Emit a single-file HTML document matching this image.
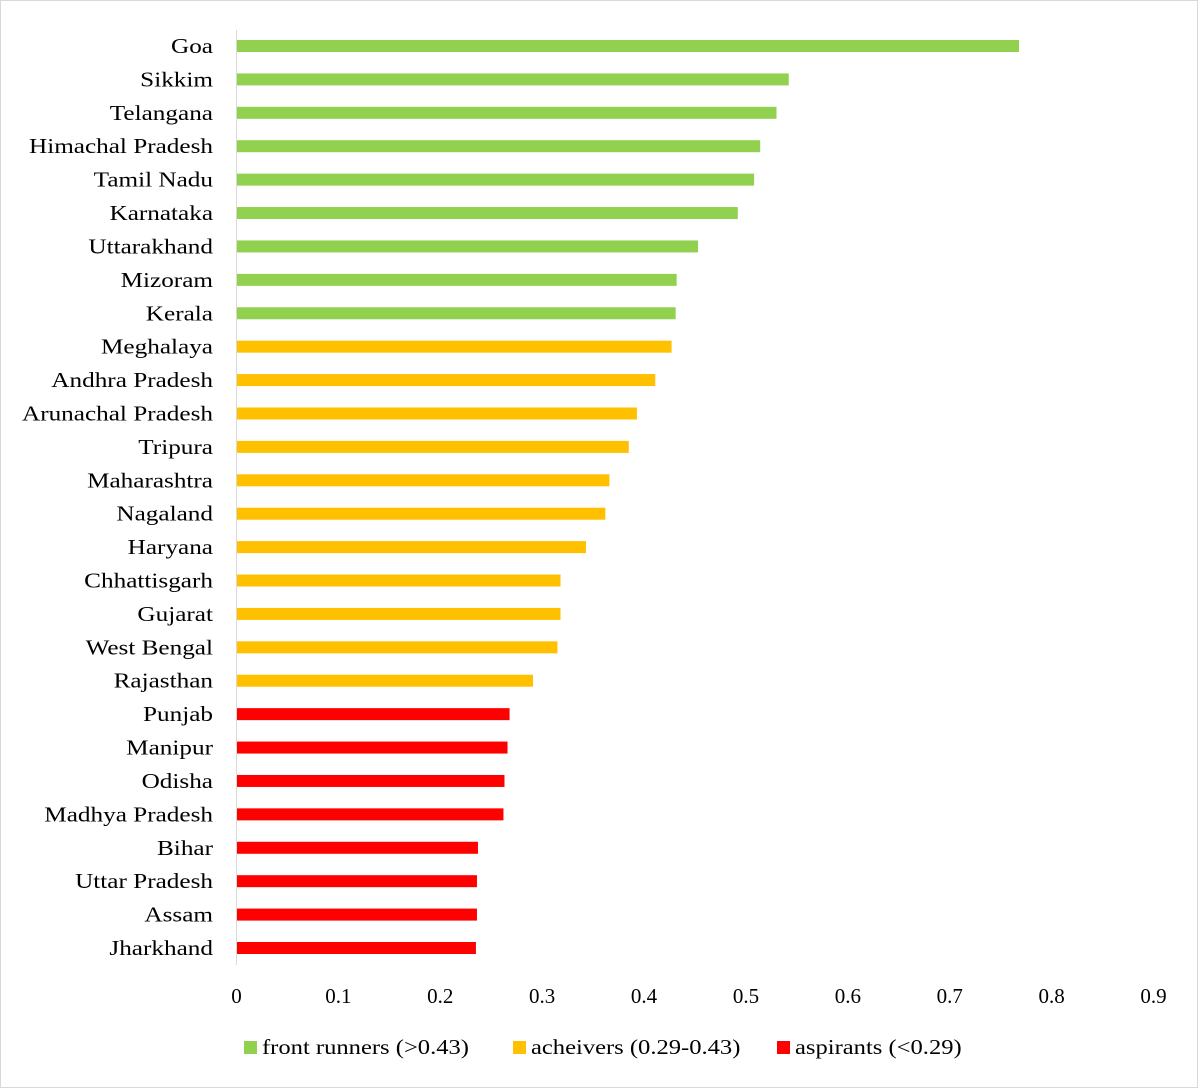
<!DOCTYPE html>
<html><head><meta charset="utf-8">
<style>
html,body{margin:0;padding:0;background:#fff;}
svg{display:block;}
text{font-family:"Liberation Serif",serif;fill:#000;}
</style></head>
<body>
<svg id="chart" width="1200" height="1090" xmlns="http://www.w3.org/2000/svg">
<rect x="0.5" y="0.5" width="1197" height="1087" fill="#fff" stroke="#d9d9d9"/>
<g id="bars"></g>
<g id="labels"></g>
<g id="ticks"></g>
<line x1="236.5" y1="30" x2="236.5" y2="965" stroke="#d9d9d9"/>
<g id="legend" font-size="21">
  <g>
    <rect x="244" y="1041" width="13" height="13" fill="#92d050"/>
    <text x="262" y="1054" font-size="21">front runners (&gt;0.43)</text>
  </g>
  <g>
    <rect x="513" y="1041" width="13" height="13" fill="#ffc000"/>
    <text x="531" y="1054" font-size="21">acheivers (0.29-0.43)</text>
  </g>
  <g>
    <rect x="777" y="1041" width="13" height="13" fill="#ff0000"/>
    <text x="795" y="1054" font-size="21">aspirants (&lt;0.29)</text>
  </g>
</g>
</svg>
<script>
const categories = ["Goa","Sikkim","Telangana","Himachal Pradesh","Tamil Nadu","Karnataka","Uttarakhand","Mizoram","Kerala","Meghalaya","Andhra Pradesh","Arunachal Pradesh","Tripura","Maharashtra","Nagaland","Haryana","Chhattisgarh","Gujarat","West Bengal","Rajasthan","Punjab","Manipur","Odisha","Madhya Pradesh","Bihar","Uttar Pradesh","Assam","Jharkhand"];
const values = [0.768,0.542,0.530,0.514,0.508,0.492,0.453,0.432,0.431,0.427,0.411,0.393,0.385,0.366,0.362,0.343,0.318,0.318,0.315,0.291,0.268,0.266,0.263,0.262,0.237,0.236,0.236,0.235];
const groups = ["front","front","front","front","front","front","front","front","front","achiever","achiever","achiever","achiever","achiever","achiever","achiever","achiever","achiever","achiever","achiever","aspirant","aspirant","aspirant","aspirant","aspirant","aspirant","aspirant","aspirant"];
const ticks = [0,0.1,0.2,0.3,0.4,0.5,0.6,0.7,0.8,0.9];
const tickLabels = ["0","0.1","0.2","0.3","0.4","0.5","0.6","0.7","0.8","0.9"];

const NS="http://www.w3.org/2000/svg";
const colors={front:"#92d050",achiever:"#ffc000",aspirant:"#ff0000"};
const x0=236.5, xPer=1018.9;
const xs=v=>x0+v*xPer;
const yTop=46, yStep=(948-46)/27;
const ys=i=>yTop+i*yStep;
const bars=document.getElementById('bars'), labels=document.getElementById('labels'), tg=document.getElementById('ticks');
categories.forEach((c,i)=>{
  const r=document.createElementNS(NS,'rect');
  r.setAttribute('x',x0+0.5);
  r.setAttribute('y',ys(i)-6);
  r.setAttribute('width',Math.max(0,xs(values[i])-x0-0.5));
  r.setAttribute('height',12);
  r.setAttribute('fill',colors[groups[i]]);
  
  
  bars.appendChild(r);
  const t=document.createElementNS(NS,'text');
  t.setAttribute('x',213);
  t.setAttribute('y',ys(i)+7);
  t.setAttribute('text-anchor','end');
  t.setAttribute('font-size','21');
  t.textContent=c;
  
  
  labels.appendChild(t);
});
ticks.forEach((v,i)=>{
  const t=document.createElementNS(NS,'text');
  t.setAttribute('x',xs(v));
  t.setAttribute('y',1003);
  t.setAttribute('text-anchor','middle');
  t.setAttribute('font-size','21');
  t.textContent=tickLabels[i];
  
  
  tg.appendChild(t);
});
function stretch(sel,f){
  document.querySelectorAll(sel).forEach(t=>{
    const w=t.getComputedTextLength();
    t.setAttribute('textLength',(w*f).toFixed(1));
    t.setAttribute('lengthAdjust','spacingAndGlyphs');
  });
}
stretch('#labels text',1.2);
stretch('#legend text',1.17);
</script>
</body></html>
